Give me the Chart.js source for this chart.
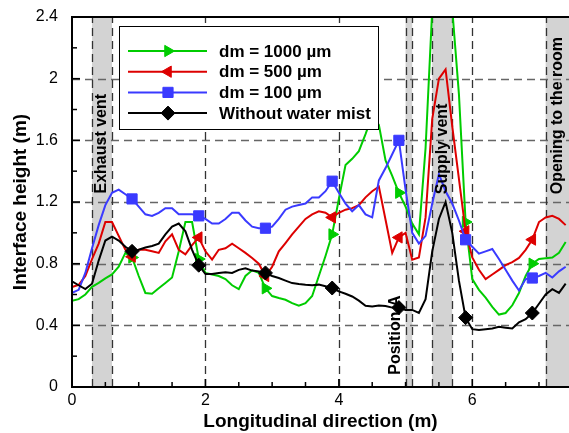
<!DOCTYPE html>
<html>
<head>
<meta charset="utf-8">
<script src="https://cdn.jsdelivr.net/npm/chart.js@4.4.0/dist/chart.umd.min.js"></script>
<style>
  html, body { margin: 0; padding: 0; background: #fff; }
</style>
</head>
<body>
<canvas id="grafico" width="569" height="433"></canvas>
<script>
// Posiciones a lo largo del tunel (m)
const posX = [0, 0.1, 0.2, 0.3, 0.4, 0.5, 0.6, 0.7, 0.8, 0.9,
  1.0, 1.1, 1.2, 1.3, 1.4, 1.5, 1.6, 1.7, 1.8, 1.9,
  2.0, 2.1, 2.2, 2.3, 2.4, 2.5, 2.6, 2.7, 2.8, 2.9,
  3.0, 3.1, 3.2, 3.3, 3.4, 3.5, 3.6, 3.7, 3.8, 3.9,
  4.0, 4.1, 4.2, 4.3, 4.4, 4.5, 4.6, 4.7, 4.8, 4.9,
  5.0, 5.1, 5.2, 5.3, 5.4, 5.5, 5.6, 5.7, 5.8, 5.9,
  6.0, 6.1, 6.2, 6.3, 6.4, 6.5, 6.6, 6.7, 6.8, 6.9,
  7.0, 7.1, 7.2, 7.3, 7.4];

// Altura de la interfase (m) para cada caso
const alturaD1000 = [0.56, 0.57, 0.60, 0.65, 0.675, 0.705, 0.73, 0.78, 0.87, 0.84,
  0.72, 0.61, 0.605, 0.64, 0.675, 0.71, 0.88, 1.07, 1.07, 0.83,
  0.74, 0.73, 0.72, 0.70, 0.66, 0.635, 0.72, 0.757, 0.74, 0.64,
  0.59, 0.577, 0.566, 0.544, 0.527, 0.544, 0.59, 0.72, 0.85, 0.99,
  1.22, 1.44, 1.48, 1.53, 1.64, 1.76, 1.70, 1.47, 1.37, 1.26,
  1.17, 1.06, 0.99, 1.55, 2.45, 2.9, 2.9, 2.45, 1.9, 1.07,
  0.70, 0.63, 0.58, 0.52, 0.47, 0.48, 0.53, 0.61, 0.72, 0.80,
  0.83, 0.835, 0.84, 0.87, 0.94];

const alturaD500 = [0.648, 0.663, 0.72, 0.83, 0.93, 1.07, 1.07, 0.98, 0.89, 0.845,
  0.89, 0.89, 0.88, 0.87, 0.945, 0.99, 0.89, 0.86, 0.92, 0.97,
  0.88, 0.826, 0.89, 0.90, 0.93, 0.90, 0.87, 0.837, 0.80, 0.72,
  0.78, 0.88, 0.934, 0.99, 1.04, 1.09, 1.12, 1.14, 1.13, 1.10,
  1.13, 1.15, 1.16, 1.18, 1.23, 1.27, 1.30, 1.085, 0.87, 0.97,
  1.0, 0.826, 0.84, 1.10, 1.74, 2.0, 2.06, 1.69, 1.35, 1.01,
  0.84, 0.76, 0.70, 0.73, 0.76, 0.79, 0.81, 0.837, 0.89, 0.956,
  1.07, 1.10, 1.11, 1.09, 1.05];

const alturaD100 = [0.61, 0.63, 0.74, 0.90, 1.05, 1.18, 1.26, 1.28, 1.25, 1.22,
  1.17, 1.12, 1.11, 1.13, 1.16, 1.16, 1.12, 1.12, 1.12, 1.11,
  1.09, 1.06, 1.06, 1.09, 1.13, 1.13, 1.08, 1.04, 1.03, 1.03,
  1.04, 1.09, 1.15, 1.17, 1.18, 1.19, 1.23, 1.23, 1.27, 1.335,
  1.26, 1.19, 1.14, 1.18, 1.12, 1.10, 1.34, 1.42, 1.51, 1.60,
  1.28, 1.0, 0.93, 0.98, 1.19, 1.38, 1.27, 1.19, 1.08, 0.955,
  0.91, 0.865, 0.88, 0.895, 0.83, 0.76, 0.69, 0.626, 0.70, 0.707,
  0.72, 0.74, 0.71, 0.75, 0.78];

const alturaSinNiebla = [0.685, 0.66, 0.635, 0.67, 0.82, 0.95, 0.975, 0.95, 0.91, 0.88,
  0.89, 0.905, 0.915, 0.93, 0.99, 1.04, 1.06, 1.01, 0.89, 0.79,
  0.733, 0.733, 0.74, 0.744, 0.74, 0.76, 0.77, 0.755, 0.75, 0.74,
  0.72, 0.707, 0.69, 0.674, 0.668, 0.663, 0.66, 0.664, 0.653, 0.642,
  0.62, 0.605, 0.587, 0.56, 0.527, 0.522, 0.528, 0.525, 0.515, 0.515,
  0.50, 0.50, 0.48, 0.57, 0.88, 1.09, 1.20, 1.0, 0.69, 0.45,
  0.375, 0.37, 0.375, 0.38, 0.39, 0.385, 0.38, 0.42, 0.44, 0.48,
  0.54, 0.60, 0.635, 0.61, 0.67];

const nombresSeries = ['dm = 1000 µm', 'dm = 500 µm', 'dm = 100 µm', 'Without water mist'];
const posMarcadores = [0.9, 1.9, 2.9, 3.9, 4.9, 5.9, 6.9];

// Ejes
const ticksX = [0, 2, 4, 6];
const ticksMenoresX = [0.5, 1, 1.5, 2.5, 3, 3.5, 4.5, 5, 5.5, 6.5, 7];
const ticksY = [0, 0.4, 0.8, 1.2, 1.6, 2, 2.4];
const etiquetasY = ['0', '0.4', '0.8', '1.2', '1.6', '2', '2.4'];
const ticksMenoresY = [0.2, 0.6, 1.0, 1.4, 1.8, 2.2];

// Zonas del tunel (m)
const zonasGrises = [[0.3, 0.6], [5.0, 5.1], [5.4, 5.7], [7.1, 7.45]];
const lineasZona = [0.3, 0.6, 5.0, 5.1, 5.4, 5.7, 7.1];
const textosZona = ['Exhaust vent', 'Position A', 'Supply vent', 'Opening to the room'];
const textosZonaX = [0.445, 4.845, 5.56, 7.28];
const textosZonaY = [1.255, 0.08, 1.25, 1.25];

const colores = ['#00cc00', '#dd0000', '#3a3aff', '#000000'];
const estilos = [
  { pointStyle: 'triangle', rotation: 90, radius: 6.5 },
  { pointStyle: 'triangle', rotation: -90, radius: 6.5 },
  { pointStyle: 'rect', rotation: 0, radius: 7.2 },
  { pointStyle: 'rectRot', rotation: 0, radius: 7 }
];

const fuente = '"Liberation Sans", Arial, sans-serif';

function armarSerie(valores, i, orden) {
  return {
    label: nombresSeries[i],
    data: posX.map(function (x, k) { return { x: x, y: valores[k] }; }),
    borderColor: colores[i],
    backgroundColor: colores[i],
    borderWidth: 2,
    tension: 0,
    order: orden,
    pointStyle: estilos[i].pointStyle,
    pointRotation: estilos[i].rotation,
    pointBackgroundColor: colores[i],
    pointBorderColor: colores[i],
    pointBorderWidth: 1,
    pointRadius: function (c) {
      return posMarcadores.includes(posX[c.dataIndex]) ? estilos[i].radius : 0;
    },
    pointHoverRadius: 0
  };
}

// Dibuja bandas, rejilla, ticks internos, bordes, textos y leyenda
const decorado = {
  id: 'decorado',
  beforeDatasetsDraw(chart) {
    const { ctx, chartArea: a, scales: { x, y } } = chart;
    ctx.save();

    ctx.fillStyle = '#d3d3d3';
    zonasGrises.forEach(function (z) {
      const x1 = x.getPixelForValue(z[0]);
      const x2 = Math.min(x.getPixelForValue(z[1]), a.right);
      ctx.fillRect(x1, a.top, x2 - x1, a.bottom - a.top);
    });

    ctx.setLineDash([8, 5]);
    ctx.lineWidth = 1.3;
    ctx.strokeStyle = '#666';
    ticksY.forEach(function (v) {
      if (v <= 0 || v >= 2.4) return;
      const py = Math.round(y.getPixelForValue(v)) + 0.5;
      ctx.beginPath();
      ctx.moveTo(a.left, py);
      ctx.lineTo(a.right, py);
      ctx.stroke();
    });

    ctx.strokeStyle = '#333';
    ticksX.concat(lineasZona).forEach(function (v) {
      if (v <= 0) return;
      const px = Math.round(x.getPixelForValue(v)) + 0.5;
      ctx.beginPath();
      ctx.moveTo(px, a.bottom);
      ctx.lineTo(px, a.top);
      ctx.stroke();
    });
    ctx.setLineDash([]);

    // ticks hacia adentro
    ctx.strokeStyle = '#000';
    ctx.lineWidth = 1.5;
    ticksY.forEach(function (v) {
      const py = y.getPixelForValue(v);
      ctx.beginPath(); ctx.moveTo(a.left, py); ctx.lineTo(a.left + 8, py); ctx.stroke();
    });
    ticksMenoresY.forEach(function (v) {
      const py = y.getPixelForValue(v);
      ctx.beginPath(); ctx.moveTo(a.left, py); ctx.lineTo(a.left + 5, py); ctx.stroke();
    });
    ticksX.forEach(function (v) {
      const px = x.getPixelForValue(v);
      ctx.beginPath(); ctx.moveTo(px, a.bottom); ctx.lineTo(px, a.bottom - 8); ctx.stroke();
    });
    ticksMenoresX.forEach(function (v) {
      const px = x.getPixelForValue(v);
      ctx.beginPath(); ctx.moveTo(px, a.bottom); ctx.lineTo(px, a.bottom - 5); ctx.stroke();
    });
    ctx.restore();
  },
  afterDatasetsDraw(chart) {
    const { ctx, chartArea: a, scales: { x, y } } = chart;
    ctx.save();

    // bordes del grafico
    ctx.strokeStyle = '#000';
    ctx.lineWidth = 2;
    ctx.beginPath();
    ctx.moveTo(a.right, a.top);
    ctx.lineTo(a.left, a.top);
    ctx.lineTo(a.left, a.bottom);
    ctx.lineTo(a.right, a.bottom);
    ctx.stroke();

    // textos verticales de las zonas
    ctx.fillStyle = '#000';
    ctx.font = 'bold 16px ' + fuente;
    ctx.textAlign = 'left';
    ctx.textBaseline = 'middle';
    textosZona.forEach(function (t, i) {
      ctx.save();
      ctx.translate(x.getPixelForValue(textosZonaX[i]), y.getPixelForValue(textosZonaY[i]));
      ctx.rotate(-Math.PI / 2);
      ctx.fillText(t, 0, 0);
      ctx.restore();
    });

    // leyenda (encima de las curvas)
    const lx = 119, ly = 26, lw = 259, lh = 103;
    ctx.fillStyle = '#fff';
    ctx.fillRect(lx, ly, lw, lh);
    ctx.strokeStyle = '#000';
    ctx.lineWidth = 1;
    ctx.strokeRect(lx + 0.5, ly + 0.5, lw, lh);
    ctx.font = 'bold 17px ' + fuente;
    nombresSeries.forEach(function (nombre, i) {
      const fy = 51 + i * 20.7;
      ctx.strokeStyle = colores[i];
      ctx.fillStyle = colores[i];
      ctx.lineWidth = 2;
      ctx.beginPath();
      ctx.moveTo(128, fy);
      ctx.lineTo(207, fy);
      ctx.stroke();
      ctx.lineWidth = 1;
      Chart.helpers.drawPoint(ctx, {
        pointStyle: estilos[i].pointStyle,
        rotation: estilos[i].rotation,
        radius: estilos[i].radius,
        borderWidth: 1
      }, 168, fy);
      ctx.fillStyle = '#000';
      ctx.fillText(nombre, 219, fy + 1);
    });
    ctx.restore();
  }
};

const ctx = document.getElementById('grafico').getContext('2d');
const grafico = new Chart(ctx, {
  type: 'line',
  data: {
    datasets: [
      armarSerie(alturaD1000, 0, 3),
      armarSerie(alturaD500, 1, 2),
      armarSerie(alturaD100, 2, 1),
      armarSerie(alturaSinNiebla, 3, 0)
    ]
  },
  options: {
    responsive: false,
    animation: false,
    devicePixelRatio: 1,
    layout: { padding: { top: 17, right: 0, bottom: 0, left: 0 } },
    plugins: {
      legend: { display: false },
      tooltip: { enabled: false }
    },
    scales: {
      x: {
        type: 'linear',
        min: 0,
        max: 7.45,
        afterFit: function (s) { s.height = 46; },
        grid: { display: false },
        border: { display: false },
        ticks: {
          stepSize: 2,
          includeBounds: false,
          padding: -4,
          color: '#000',
          font: { family: fuente, size: 16 }
        },
        title: {
          display: true,
          text: 'Longitudinal direction (m)',
          color: '#000',
          font: { family: fuente, size: 19, weight: 'bold', lineHeight: 1 },
          padding: { top: 0, bottom: 2 }
        }
      },
      y: {
        min: 0,
        max: 2.4,
        afterFit: function (s) { s.width = 72; },
        afterBuildTicks: function (s) {
          s.ticks = ticksY.map(function (v) { return { value: v }; });
        },
        grid: { display: false },
        border: { display: false },
        ticks: {
          padding: 6,
          color: '#000',
          font: { family: fuente, size: 16 },
          callback: function (v, k) { return etiquetasY[k]; }
        },
        title: {
          display: true,
          text: 'Interface height (m)',
          color: '#000',
          font: { family: fuente, size: 19, weight: 'bold', lineHeight: 1 },
          padding: { top: 11, bottom: 0 }
        }
      }
    }
  },
  plugins: [decorado]
});
</script>
</body>
</html>
